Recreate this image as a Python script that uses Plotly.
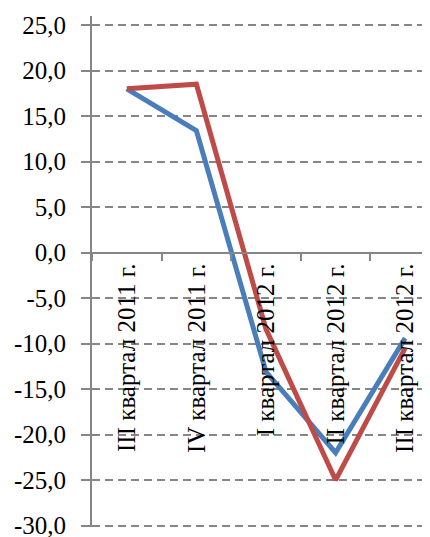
import plotly.graph_objects as go

categories = ["III квартал 2011 г.", "IV квартал 2011 г.", "I квартал 2012 г.",
              "II квартал 2012 г.", "III квартал 2012 г."]
series_blue = [18.0, 13.4, -13.1, -22.0, -9.4]
series_red = [18.0, 18.5, -8.4, -25.0, -10.5]
y_tickvals = [25, 20, 15, 10, 5, 0, -5, -10, -15, -20, -25, -30]
y_ticktext = ["25,0", "20,0", "15,0", "10,0", "5,0", "0,0", "-5,0", "-10,0",
              "-15,0", "-20,0", "-25,0", "-30,0"]

GREY = "#868686"
FONT = "Liberation Serif"

fig = go.Figure()
fig.add_trace(go.Scatter(x=categories, y=series_blue, mode="lines", name="Ряд 1",
                         line=dict(color="#4a7ebb", width=5)))
fig.add_trace(go.Scatter(x=categories, y=series_red, mode="lines", name="Ряд 2",
                         line=dict(color="#be4b48", width=5)))

ymin, ymax = -30, 25
pad_lo, pad_hi = 0.16, 1.0
fig.update_layout(
    width=422, height=529,
    margin=dict(l=84, r=0, t=8, b=10, autoexpand=False),
    paper_bgcolor="white", plot_bgcolor="white",
    showlegend=False,
    font=dict(family=FONT, color="black"),
    xaxis=dict(
        type="category",
        range=[-0.5, 4.357],
        anchor="free",
        position=(0 - ymin + pad_lo) / (ymax - ymin + pad_lo + pad_hi),
        automargin=False,
        showline=True, linecolor=GREY, linewidth=2,
        ticks="outside", tickson="boundaries", ticklen=7, tickwidth=2, tickcolor=GREY,
        tickangle=-90,
        tickfont=dict(size=25, family=FONT, color="black"),
        showgrid=False, zeroline=False,
    ),
    yaxis=dict(
        range=[ymin - pad_lo, ymax + pad_hi],
        automargin=False,
        tickvals=y_tickvals, ticktext=y_ticktext,
        showline=True, linecolor=GREY, linewidth=2,
        ticks="outside", ticklen=9, tickwidth=2, tickcolor=GREY,
        ticklabelstandoff=10,
        ticklabeloverflow="allow",
        tickfont=dict(size=25, family=FONT, color="black"),
        showgrid=True, gridcolor=GREY, gridwidth=1.5, griddash="8px,5px",
        zeroline=False,
    ),
)

fig.write_html("out.html")
